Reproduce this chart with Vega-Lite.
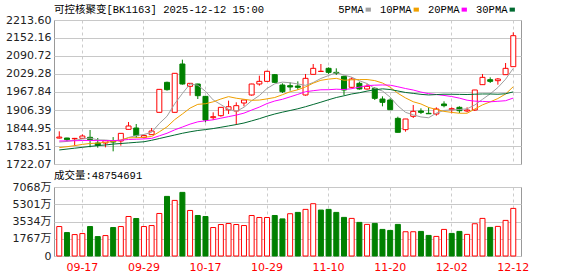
{
  "$schema": "https://vega.github.io/schema/vega-lite/v6.json",
  "background": "white",
  "padding": {"left": 3, "top": 4, "right": 5, "bottom": 2},
  "spacing": 0,
  "datasets": {
    "k": [
      {"d":"09-12","o":1810.5,"h":1833.6,"l":1809.0,"c":1814.0,"v":30180000,"5PMA":1797,"10PMA":1778,"20PMA":1800.6,"30PMA":1770},
      {"d":"09-15","o":1810.8,"h":1811.5,"l":1800.6,"c":1805.1,"v":24010000,"5PMA":1799,"10PMA":1781.1,"20PMA":1800.9,"30PMA":1773},
      {"d":"09-16","o":1808.0,"h":1811.0,"l":1784.7,"c":1809.5,"v":21950000,"5PMA":1803,"10PMA":1784.7,"20PMA":1801.4,"30PMA":1776},
      {"d":"09-17","o":1809.7,"h":1823.3,"l":1807.4,"c":1817.6,"v":22980000,"5PMA":1807.5,"10PMA":1789.0,"20PMA":1802.3,"30PMA":1779},
      {"d":"09-18","o":1813.1,"h":1838.1,"l":1779.0,"c":1805.1,"v":30180000,"5PMA":1810.3,"10PMA":1792.1,"20PMA":1802.6,"30PMA":1782},
      {"d":"09-19","o":1793.7,"h":1810.8,"l":1777.8,"c":1785.8,"v":19890000,"5PMA":1804.6,"10PMA":1793.3,"20PMA":1801.9,"30PMA":1785},
      {"d":"09-22","o":1793.7,"h":1802.0,"l":1779.0,"c":1801.7,"v":20920000,"5PMA":1803.9,"10PMA":1796.1,"20PMA":1802.0,"30PMA":1787},
      {"d":"09-23","o":1799.0,"h":1814.0,"l":1765.3,"c":1797.0,"v":29160000,"5PMA":1801.4,"10PMA":1798.4,"20PMA":1801.9,"30PMA":1790},
      {"d":"09-24","o":1800.6,"h":1827.0,"l":1784.7,"c":1826.7,"v":30180000,"5PMA":1803.3,"10PMA":1803.7,"20PMA":1803.2,"30PMA":1792},
      {"d":"09-25","o":1840.4,"h":1865.4,"l":1840.0,"c":1851.8,"v":40470000,"5PMA":1812.6,"10PMA":1811.4,"20PMA":1805.8,"30PMA":1794},
      {"d":"09-26","o":1844.9,"h":1858.6,"l":1810.8,"c":1818.8,"v":38420000,"5PMA":1819.2,"10PMA":1811.9,"20PMA":1806.7,"30PMA":1796},
      {"d":"09-29","o":1813.0,"h":1822.0,"l":1809.0,"c":1819.5,"v":30180000,"5PMA":1822.8,"10PMA":1813.4,"20PMA":1807.7,"30PMA":1798},
      {"d":"09-30","o":1822.2,"h":1844.9,"l":1822.0,"c":1834.7,"v":31210000,"5PMA":1830.3,"10PMA":1815.9,"20PMA":1809.4,"30PMA":1803},
      {"d":"10-09","o":1898.4,"h":1977.5,"l":1898.0,"c":1976.9,"v":43560000,"5PMA":1860.3,"10PMA":1831.9,"20PMA":1818.2,"30PMA":1809},
      {"d":"10-10","o":2000.8,"h":2003.1,"l":1972.4,"c":1975.8,"v":61050000,"5PMA":1885.1,"10PMA":1848.9,"20PMA":1827.0,"30PMA":1815},
      {"d":"10-13","o":1898.4,"h":2032.0,"l":1898.0,"c":2031.6,"v":56940000,"5PMA":1927.7,"10PMA":1873.5,"20PMA":1838.6,"30PMA":1821},
      {"d":"10-14","o":2063.4,"h":2078.2,"l":1993.0,"c":1995.1,"v":65170000,"5PMA":1962.8,"10PMA":1892.8,"20PMA":1848.3,"30PMA":1827},
      {"d":"10-15","o":1987.2,"h":1998.0,"l":1955.3,"c":1997.4,"v":46650000,"5PMA":1995.4,"10PMA":1912.9,"20PMA":1858.2,"30PMA":1832},
      {"d":"10-16","o":1995.1,"h":1996.0,"l":1943.9,"c":1955.3,"v":41500000,"5PMA":1991.0,"10PMA":1925.7,"20PMA":1866.0,"30PMA":1836.4},
      {"d":"10-17","o":1953.0,"h":1954.0,"l":1864.3,"c":1872.3,"v":40470000,"5PMA":1970.3,"10PMA":1927.8,"20PMA":1869.6,"30PMA":1839.5},
      {"d":"10-20","o":1880.2,"h":1898.4,"l":1872.3,"c":1883.6,"v":29160000,"5PMA":1940.7,"10PMA":1934.3,"20PMA":1873.0,"30PMA":1843.0},
      {"d":"10-21","o":1887.0,"h":1916.0,"l":1883.6,"c":1915.5,"v":32240000,"5PMA":1924.8,"10PMA":1943.9,"20PMA":1878.4,"30PMA":1847.5},
      {"d":"10-22","o":1907.0,"h":1938.2,"l":1892.7,"c":1917.5,"v":33270000,"5PMA":1908.8,"10PMA":1952.1,"20PMA":1883.8,"30PMA":1852.0},
      {"d":"10-23","o":1903.0,"h":1932.6,"l":1855.2,"c":1921.2,"v":32240000,"5PMA":1902.0,"10PMA":1946.6,"20PMA":1889.0,"30PMA":1856.7},
      {"d":"10-24","o":1930.3,"h":1941.0,"l":1918.9,"c":1940.5,"v":31210000,"5PMA":1915.7,"10PMA":1943.0,"20PMA":1895.7,"30PMA":1862.0},
      {"d":"10-27","o":1957.6,"h":1996.0,"l":1955.3,"c":1995.1,"v":41500000,"5PMA":1938.0,"10PMA":1939.4,"20PMA":1906.2,"30PMA":1869.2},
      {"d":"10-28","o":1995.1,"h":2023.6,"l":1989.5,"c":2004.2,"v":39450000,"5PMA":1955.7,"10PMA":1940.3,"20PMA":1916.3,"30PMA":1876.7},
      {"d":"10-29","o":2004.2,"h":2040.7,"l":2004.0,"c":2038.4,"v":39450000,"5PMA":1979.9,"10PMA":1944.4,"20PMA":1928.4,"30PMA":1885.3},
      {"d":"10-30","o":2027.0,"h":2029.3,"l":1998.6,"c":2000.8,"v":41500000,"5PMA":1995.8,"10PMA":1949.0,"20PMA":1937.1,"30PMA":1892.7},
      {"d":"10-31","o":1991.7,"h":1997.4,"l":1964.4,"c":1969.0,"v":38000000,"5PMA":2001.5,"10PMA":1958.6,"20PMA":1943.0,"30PMA":1899.0},
      {"d":"11-03","o":1989.4,"h":2000.8,"l":1972.4,"c":1984.9,"v":43310000,"5PMA":1999.5,"10PMA":1968.8,"20PMA":1951.3,"30PMA":1904.7},
      {"d":"11-04","o":1988.3,"h":2004.2,"l":1975.8,"c":1983.8,"v":44670000,"5PMA":1995.4,"10PMA":1975.5,"20PMA":1959.7,"30PMA":1910.6},
      {"d":"11-05","o":1957.6,"h":2029.3,"l":1955.3,"c":2014.5,"v":47750000,"5PMA":1990.6,"10PMA":1985.2,"20PMA":1968.7,"30PMA":1917.6},
      {"d":"11-06","o":2028.1,"h":2063.4,"l":2028.0,"c":2048.6,"v":53560000,"5PMA":2000.2,"10PMA":1998.0,"20PMA":1972.3,"30PMA":1925.3},
      {"d":"11-07","o":2038.0,"h":2063.4,"l":2038.0,"c":2038.6,"v":47070000,"5PMA":2014.1,"10PMA":2007.8,"20PMA":1975.4,"30PMA":1933.1},
      {"d":"11-10","o":2048.6,"h":2052.0,"l":2029.3,"c":2034.9,"v":47750000,"5PMA":2024.1,"10PMA":2011.8,"20PMA":1975.6,"30PMA":1941.4},
      {"d":"11-11","o":2034.9,"h":2048.6,"l":2025.9,"c":2031.5,"v":44670000,"5PMA":2033.6,"10PMA":2014.5,"20PMA":1977.4,"30PMA":1949.0},
      {"d":"11-12","o":2021.3,"h":2023.6,"l":1957.6,"c":1974.7,"v":39550000,"5PMA":2025.7,"10PMA":2008.1,"20PMA":1976.3,"30PMA":1954.9},
      {"d":"11-13","o":1983.8,"h":2017.9,"l":1980.3,"c":2012.2,"v":38520000,"5PMA":2018.4,"10PMA":2009.3,"20PMA":1979.1,"30PMA":1961.1},
      {"d":"11-14","o":1997.4,"h":2003.1,"l":1975.8,"c":1978.1,"v":34420000,"5PMA":2006.3,"10PMA":2010.2,"20PMA":1984.4,"30PMA":1965.3},
      {"d":"11-17","o":1978.1,"h":1995.1,"l":1975.8,"c":1987.2,"v":32370000,"5PMA":1996.7,"10PMA":2010.4,"20PMA":1989.6,"30PMA":1970.9},
      {"d":"11-18","o":1980.3,"h":1983.8,"l":1940.5,"c":1946.2,"v":33390000,"5PMA":1979.7,"10PMA":2006.7,"20PMA":1991.1,"30PMA":1975.3},
      {"d":"11-19","o":1943.9,"h":1953.0,"l":1918.9,"c":1932.6,"v":27240000,"5PMA":1971.3,"10PMA":1998.5,"20PMA":1991.9,"30PMA":1978.6},
      {"d":"11-20","o":1940.5,"h":1946.2,"l":1907.0,"c":1907.5,"v":26210000,"5PMA":1950.3,"10PMA":1984.4,"20PMA":1991.2,"30PMA":1976.3},
      {"d":"11-21","o":1877.9,"h":1883.6,"l":1830.0,"c":1830.2,"v":32370000,"5PMA":1920.7,"10PMA":1963.5,"20PMA":1985.7,"30PMA":1971.4},
      {"d":"11-24","o":1839.3,"h":1876.0,"l":1832.4,"c":1875.7,"v":24850000,"5PMA":1898.4,"10PMA":1947.6,"20PMA":1979.7,"30PMA":1966.2},
      {"d":"11-25","o":1884.8,"h":1923.5,"l":1879.1,"c":1901.8,"v":24850000,"5PMA":1889.6,"10PMA":1934.6,"20PMA":1974.6,"30PMA":1963.1},
      {"d":"11-26","o":1903.0,"h":1912.1,"l":1892.7,"c":1898.4,"v":25190000,"5PMA":1882.7,"10PMA":1927.0,"20PMA":1967.6,"30PMA":1959.8},
      {"d":"11-27","o":1895.0,"h":1915.5,"l":1893.0,"c":1893.5,"v":21090000,"5PMA":1879.9,"10PMA":1915.1,"20PMA":1962.2,"30PMA":1957.8},
      {"d":"11-28","o":1892.7,"h":1915.5,"l":1887.0,"c":1909.8,"v":20070000,"5PMA":1895.8,"10PMA":1908.3,"20PMA":1959.2,"30PMA":1959.0},
      {"d":"12-01","o":1926.9,"h":1936.0,"l":1915.5,"c":1921.2,"v":27240000,"5PMA":1904.9,"10PMA":1901.7,"20PMA":1956.1,"30PMA":1960.3},
      {"d":"12-02","o":1907.5,"h":1915.5,"l":1895.0,"c":1910.9,"v":23140000,"5PMA":1906.8,"10PMA":1898.2,"20PMA":1952.4,"30PMA":1960.1},
      {"d":"12-03","o":1915.5,"h":1919.0,"l":1896.1,"c":1904.1,"v":25190000,"5PMA":1907.9,"10PMA":1895.3,"20PMA":1946.9,"30PMA":1959.7},
      {"d":"12-04","o":1903.0,"h":1915.5,"l":1898.4,"c":1906.4,"v":22120000,"5PMA":1910.5,"10PMA":1895.2,"20PMA":1939.8,"30PMA":1959.2},
      {"d":"12-05","o":1906.4,"h":1975.0,"l":1903.0,"c":1974.7,"v":33050000,"5PMA":1923.5,"10PMA":1909.7,"20PMA":1936.6,"30PMA":1960.3},
      {"d":"12-08","o":1992.9,"h":2029.3,"l":1992.9,"c":2017.9,"v":38520000,"5PMA":1942.8,"10PMA":1923.9,"20PMA":1935.7,"30PMA":1961.1},
      {"d":"12-09","o":2009.9,"h":2017.9,"l":1998.6,"c":2004.2,"v":29290000,"5PMA":1961.5,"10PMA":1934.1,"20PMA":1934.4,"30PMA":1961.1},
      {"d":"12-10","o":2006.5,"h":2015.6,"l":1992.9,"c":2012.2,"v":30320000,"5PMA":1983.1,"10PMA":1945.5,"20PMA":1936.2,"30PMA":1960.2},
      {"d":"12-11","o":2027.0,"h":2066.8,"l":2027.0,"c":2048.6,"v":36470000,"5PMA":2011.5,"10PMA":1961.0,"20PMA":1938.1,"30PMA":1961.8},
      {"d":"12-12","o":2054.3,"h":2171.5,"l":2054.0,"c":2160.1,"v":48754691,"5PMA":2048.6,"10PMA":1986.0,"20PMA":1947.2,"30PMA":1968.2}
    ]
  },
  "vconcat": [
    {
      "width": 467,
      "height": 144,
      "data": {"name": "k"},
      "title": {
        "text": "可控核聚变[BK1163] 2025-12-12 15:00",
        "anchor": "start",
        "frame": "group",
        "font": "Liberation Mono, Noto Sans CJK SC",
        "fontSize": 10.5,
        "fontWeight": "normal",
        "color": "#000000",
        "offset": -1
      },
      "encoding": {
        "x": {
          "field": "d",
          "type": "ordinal",
          "scale": {"paddingInner": 0, "paddingOuter": 0.345, "align": 0.27},
          "axis": {
            "labels": false,
            "ticks": false,
            "domain": false,
            "grid": true,
            "gridDash": [3, 3],
            "gridColor": "#cccccc",
            "title": null,
            "values": ["09-17", "09-29", "10-17", "10-29", "11-10", "11-20", "12-02", "12-12"]
          }
        },
        "y": {
          "field": "l",
          "type": "quantitative",
          "scale": {"domain": [1722.07, 2213.6], "nice": false, "zero": false},
          "axis": {
            "values": [1722.07, 1783.51, 1844.95, 1906.39, 1967.84, 2029.28, 2090.72, 2152.16, 2213.6],
            "format": ".2f",
            "title": null,
            "domain": false,
            "ticks": false,
            "grid": true,
            "gridColor": "#c8c8c8",
            "labelOverlap": false,
            "labelBound": false,
            "labelFont": "DejaVu Sans",
            "labelFontSize": 11,
            "labelColor": "#222222",
            "labelPadding": 3,
            "minExtent": 50,
            "maxExtent": 50
          }
        }
      },
      "layer": [
        {
          "mark": {"type": "rule", "strokeWidth": 1},
          "encoding": {
            "y2": {"field": "h"},
            "color": {"condition": {"test": "datum.c >= datum.o", "value": "#ff0000"}, "value": "#008000"}
          }
        },
        {
          "mark": {"type": "bar", "size": 5, "strokeWidth": 1},
          "encoding": {
            "y": {"field": "o", "type": "quantitative"},
            "y2": {"field": "c"},
            "fill": {"condition": {"test": "datum.c >= datum.o", "value": "#ffffff"}, "value": "#008000"},
            "stroke": {"condition": {"test": "datum.c >= datum.o", "value": "#ff0000"}, "value": "#008000"}
          }
        },
        {
          "transform": [{"fold": ["5PMA", "10PMA", "20PMA", "30PMA"], "as": ["k", "val"]}],
          "mark": {"type": "line", "strokeWidth": 1},
          "encoding": {
            "y": {"field": "val", "type": "quantitative"},
            "color": {
              "field": "k",
              "type": "nominal",
              "scale": {"domain": ["5PMA", "10PMA", "20PMA", "30PMA"], "range": ["#a0a0a0", "#f0a000", "#ff00ff", "#006a30"]},
              "legend": {
                "orient": "none",
                "legendX": 309,
                "legendY": -16,
                "direction": "horizontal",
                "title": null,
                "symbolType": "stroke",
                "symbolSize": 28,
                "symbolStrokeWidth": 4,
                "labelAlign": "right",
                "labelOffset": -10,
                "labelFont": "Liberation Mono",
                "labelFontSize": 10.5,
                "labelColor": "#000000",
                "columnPadding": 0
              }
            }
          }
        }
      ]
    },
    {
      "width": 467,
      "height": 69,
      "data": {"name": "k"},
      "title": {
        "text": "成交量:48754691",
        "anchor": "start",
        "frame": "group",
        "font": "Liberation Mono, Noto Sans CJK SC",
        "fontSize": 10.5,
        "fontWeight": "normal",
        "color": "#000000",
        "offset": 0
      },
      "transform": [{"window": [{"op": "lag", "field": "c", "as": "pc"}], "sort": [{"field": "d"}]}],
      "mark": {"type": "bar", "size": 5, "strokeWidth": 1},
      "encoding": {
        "x": {
          "field": "d",
          "type": "ordinal",
          "scale": {"paddingInner": 0, "paddingOuter": 0.345, "align": 0.27},
          "axis": {
            "labels": true,
            "ticks": false,
            "domain": false,
            "grid": true,
            "gridDash": [3, 3],
            "gridColor": "#cccccc",
            "title": null,
            "labelAngle": 0,
            "labelColor": "#ff0000",
            "labelFont": "DejaVu Sans",
            "labelFontSize": 11,
            "labelPadding": 5,
            "values": ["09-17", "09-29", "10-17", "10-29", "11-10", "11-20", "12-02", "12-12"]
          }
        },
        "y": {
          "field": "v",
          "type": "quantitative",
          "scale": {"domain": [0, 70680000], "nice": false},
          "axis": {
            "values": [0, 17670000, 35340000, 53010000, 70680000],
            "labelExpr": "datum.value == 0 ? '0' : format(datum.value / 10000, 'd') + '万'",
            "title": null,
            "domain": false,
            "ticks": false,
            "grid": true,
            "gridColor": "#c8c8c8",
            "labelOverlap": false,
            "labelFont": "DejaVu Sans, Noto Sans CJK SC",
            "labelFontSize": 11,
            "labelColor": "#222222",
            "labelPadding": 3,
            "minExtent": 50,
            "maxExtent": 50
          }
        },
        "fill": {"condition": {"test": "datum.pc == null || datum.c >= datum.pc", "value": "#ffffff"}, "value": "#008000"},
        "stroke": {"condition": {"test": "datum.pc == null || datum.c >= datum.pc", "value": "#ff0000"}, "value": "#008000"}
      }
    }
  ],
  "config": {
    "view": {"stroke": "#999999", "strokeWidth": 1},
    "concat": {"spacing": 0},
    "axis": {"labelOverlap": false},
    "axisY": {"labelOverlap": false}
  }
}
